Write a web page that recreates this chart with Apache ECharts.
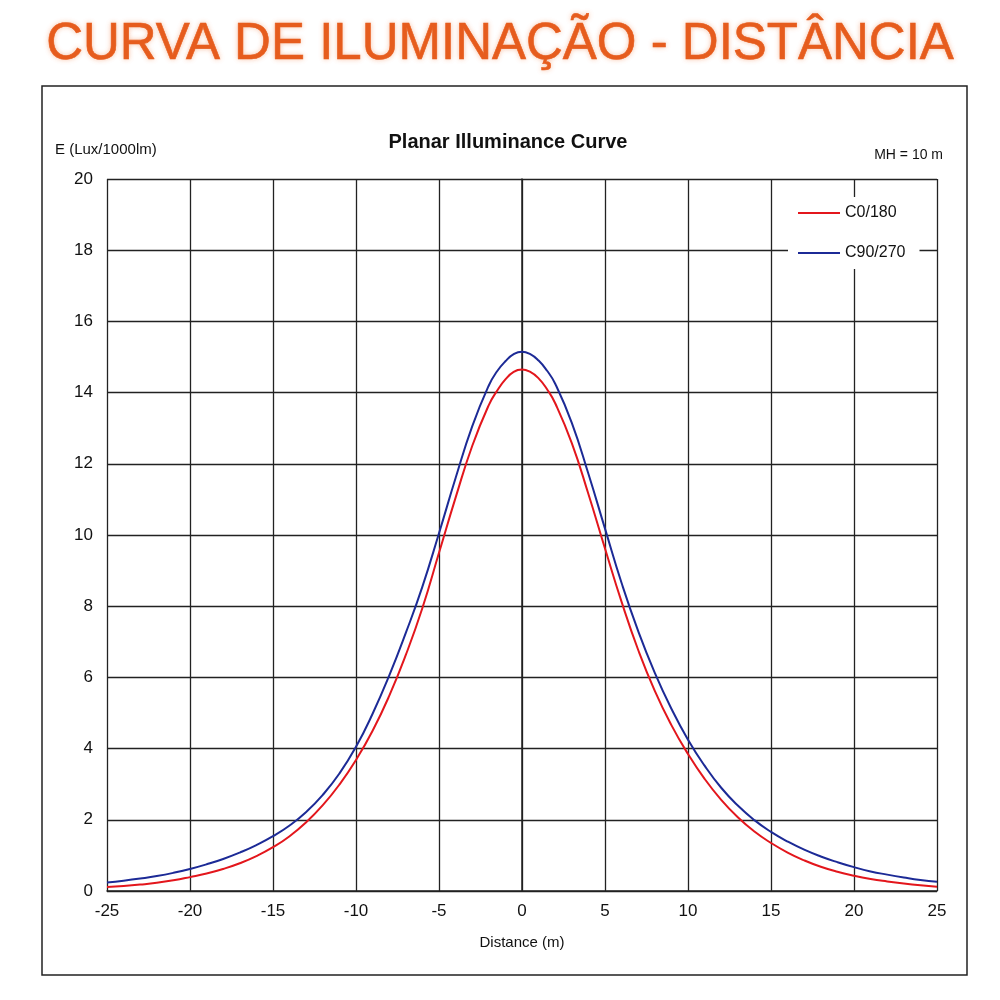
<!DOCTYPE html>
<html>
<head>
<meta charset="utf-8">
<script src="https://cdn.jsdelivr.net/npm/echarts@6/dist/echarts.min.js"></script>
<style>
  html, body { margin: 0; padding: 0; background: #fff; }
  #chart { width: 1000px; height: 1000px; }
</style>
</head>
<body>
<div id="chart"></div>
<script>
// distance along the road (m), denser around the peak
var distances = [-25, -24, -23, -22, -21, -20, -19, -18, -17, -16, -15, -14, -13, -12, -11, -10,
  -9, -8, -7, -6, -5, -4, -3, -2, -1.5, -1, -0.5, 0, 0.5, 1, 1.5, 2, 3, 4, 5, 6, 7, 8, 9,
  10, 11, 12, 13, 14, 15, 16, 17, 18, 19, 20, 21, 22, 23, 24, 25];

// C0/180 plane, lux per 1000 lm
var c0 = [0.11, 0.14, 0.18, 0.23, 0.30, 0.39, 0.49, 0.62, 0.78, 0.98, 1.23, 1.54, 1.93, 2.41, 2.99, 3.68,
  4.50, 5.48, 6.63, 7.95, 9.50, 11.05, 12.50, 13.65, 14.05, 14.37, 14.58, 14.65, 14.58, 14.40, 14.10, 13.70, 12.58, 11.15, 9.62, 8.12, 6.77, 5.62, 4.66,
  3.85, 3.15, 2.56, 2.07, 1.67, 1.35, 1.08, 0.86, 0.68, 0.54, 0.43, 0.34, 0.27, 0.21, 0.16, 0.12];

// C90/270 plane
var c90 = [0.24, 0.29, 0.35, 0.42, 0.51, 0.62, 0.75, 0.90, 1.08, 1.29, 1.54, 1.84, 2.22, 2.70, 3.30, 4.05,
  4.98, 6.05, 7.25, 8.55, 10.05, 11.60, 13.05, 14.20, 14.60, 14.88, 15.08, 15.15, 15.08, 14.90, 14.62, 14.25, 13.15, 11.72, 10.18, 8.65, 7.30, 6.13, 5.12,
  4.25, 3.52, 2.90, 2.40, 1.99, 1.66, 1.39, 1.16, 0.97, 0.81, 0.67, 0.55, 0.46, 0.38, 0.31, 0.26];

var seriesNames = ['C0/180', 'C90/270'];

function pairs(ys) {
  var out = [];
  for (var i = 0; i < distances.length; i++) {
    out.push([distances[i], ys[i]]);
  }
  return out;
}

var chart = echarts.init(document.getElementById('chart'));
var font = '"Liberation Sans", Arial, Helvetica, sans-serif';

var option = {
  backgroundColor: '#fff',
  textStyle: { fontFamily: font },
  animation: false,
  title: [{
    text: 'CURVA DE ILUMINAÇÃO - DISTÂNCIA',
    left: 'center',
    top: 14,
    textStyle: {
      fontFamily: font,
      fontSize: 51,
      fontWeight: 'normal',
      color: '#e65c1d',
      textBorderColor: '#e65c1d',
      textBorderWidth: 0.6,
      textShadowColor: 'rgba(240,120,60,0.4)',
      textShadowBlur: 5
    }
  }, {
    text: 'Planar Illuminance Curve',
    left: 503,
    textAlign: 'center',
    top: 127,
    textStyle: { fontFamily: font, fontSize: 20, fontWeight: 'bold', color: '#111' }
  }],
  graphic: [{
    type: 'rect',
    shape: { x: 42, y: 86, width: 925, height: 889 },
    style: { fill: 'none', stroke: '#222', lineWidth: 1.5 },
    silent: true
  }, {
    type: 'text',
    left: 55,
    top: 142,
    style: { text: 'E (Lux/1000lm)', font: '15px ' + font, fill: '#111' }
  }, {
    type: 'text',
    right: 57,
    top: 148,
    style: { text: 'MH = 10 m', font: '14px ' + font, fill: '#111' }
  }],
  legend: {
    data: seriesNames,
    orient: 'vertical',
    left: 788,
    top: 197,
    itemWidth: 42,
    itemHeight: 2,
    itemGap: 24,
    padding: [8, 14, 8, 10],
    backgroundColor: '#fff',
    icon: 'rect',
    textStyle: { fontFamily: font, fontSize: 16, color: '#111' }
  },
  grid: { left: 107, right: 63, top: 179, bottom: 109 },
  xAxis: {
    type: 'value',
    min: -25,
    max: 25,
    interval: 5,
    name: 'Distance (m)',
    nameLocation: 'middle',
    nameGap: 44,
    nameTextStyle: { fontFamily: font, fontSize: 15, color: '#111' },
    axisLine: { show: true, lineStyle: { color: '#222', width: 1.5 } },
    axisTick: { show: false },
    axisLabel: { fontFamily: font, fontSize: 17, color: '#111', margin: 12 },
    splitLine: { show: true, lineStyle: { color: '#222', width: 1.3 } }
  },
  yAxis: {
    type: 'value',
    min: 0,
    max: 20,
    interval: 2,
    axisLine: { show: true, lineStyle: { color: '#222', width: 1.5 } },
    axisTick: { show: false },
    axisLabel: { fontFamily: font, fontSize: 17, color: '#111', margin: 14 },
    splitLine: { show: true, lineStyle: { color: '#222', width: 1.3 } }
  },
  series: [{
    name: seriesNames[0],
    type: 'line',
    smooth: 0.5,
    showSymbol: false,
    color: '#e3161c',
    lineStyle: { width: 2, color: '#e3161c' },
    data: pairs(c0),
    z: 3
  }, {
    name: seriesNames[1],
    type: 'line',
    smooth: 0.5,
    showSymbol: false,
    color: '#1c2a96',
    lineStyle: { width: 2, color: '#1c2a96' },
    data: pairs(c90),
    z: 4
  }]
};

chart.setOption(option);
</script>
</body>
</html>
